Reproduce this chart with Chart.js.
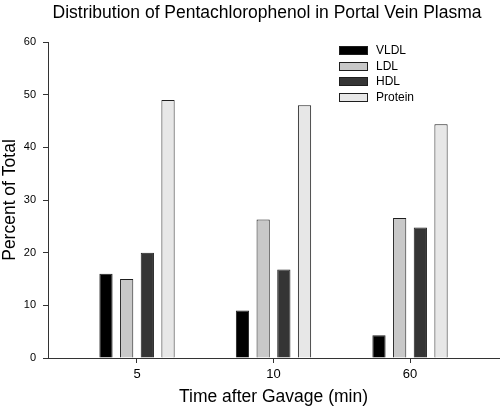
<!DOCTYPE html>
<html>
<head>
<meta charset="utf-8">
<script src="https://cdn.jsdelivr.net/npm/chart.js@4.4.1/dist/chart.umd.min.js"></script>
<style>
  html, body { margin: 0; padding: 0; background: #fff; }
</style>
</head>
<body>
<canvas id="chart" width="500" height="408"></canvas>
<script>
const timeLabels = ['5', '10', '60']
const vldl = [16.0, 9.0, 4.3]
const ldl = [15.0, 26.3, 26.6]
const hdl = [20.0, 16.8, 24.8]
const protein = [49.0, 48.0, 44.4]
const seriesNames = ['VLDL', 'LDL', 'HDL', 'Protein']
const seriesColors = ['#000000', '#c8c8c8', '#353535', '#e7e7e7']

const fontFamily = '"Liberation Sans", Arial, sans-serif'
Chart.defaults.font.family = fontFamily
Chart.defaults.color = '#000'

const datasets = [vldl, ldl, hdl, protein].map((values, i) => ({
    label: seriesNames[i],
    data: values.map((v, idx) => ({x: idx, y: v})),
    backgroundColor: seriesColors[i],
    borderColor: '#1e1e1e',
    borderWidth: 1,
    categoryPercentage: 0.606,
    barPercentage: 0.64
}))

// title and legend box drawn by hand, the built-in ones can't sit where the original has them
const extras = {
    id: 'extras',
    afterDraw(chart) {
        const ctx = chart.ctx
        ctx.save()
        ctx.fillStyle = '#000'
        ctx.font = `17.5px ${fontFamily}`
        ctx.textAlign = 'center'
        ctx.textBaseline = 'middle'
        ctx.fillText('Distribution of Pentachlorophenol in Portal Vein Plasma', 267, 13)

        ctx.font = `12px ${fontFamily}`
        ctx.textAlign = 'left'
        chart.data.datasets.forEach((ds, i) => {
            const y = Math.round(46 + i * 15.5)
            ctx.fillStyle = ds.backgroundColor
            ctx.fillRect(339.5, y + 0.5, 28, 8)
            ctx.strokeStyle = '#1e1e1e'
            ctx.lineWidth = 1
            ctx.strokeRect(339.5, y + 0.5, 28, 8)
            ctx.fillStyle = '#000'
            ctx.fillText(ds.label, 376, y + 5)
        })
        ctx.restore()
    }
}

new Chart(document.getElementById('chart'), {
    type: 'bar',
    data: {datasets},
    options: {
        responsive: false,
        animation: false,
        layout: {padding: {top: 42, right: 1, bottom: 0, left: 0}},
        plugins: {
            legend: {display: false},
            tooltip: {enabled: false}
        },
        scales: {
            x: {
                type: 'linear',
                min: -0.652,
                max: 2.652,
                offset: false,
                grid: {drawOnChartArea: false, drawTicks: true, tickLength: 5, offset: false, color: '#333'},
                border: {display: true, color: '#333', width: 1},
                ticks: {
                    stepSize: 1,
                    includeBounds: false,
                    padding: 4,
                    font: {size: 13},
                    callback: v => timeLabels[v] ?? ''
                },
                title: {display: true, text: 'Time after Gavage (min)', font: {size: 17.5}, padding: {top: 0, bottom: 0}},
                afterFit(scale) { scale.height = 50 }
            },
            y: {
                min: 0,
                max: 60,
                grid: {drawOnChartArea: false, drawTicks: true, tickLength: 5, color: '#333'},
                border: {display: true, color: '#333', width: 1},
                ticks: {stepSize: 10, padding: 7, font: {size: 11}},
                title: {display: true, text: 'Percent of Total', font: {size: 17.5}, padding: {top: 0, bottom: 0}},
                afterFit(scale) { scale.width = 48 }
            }
        }
    },
    plugins: [extras]
})
</script>
</body>
</html>
